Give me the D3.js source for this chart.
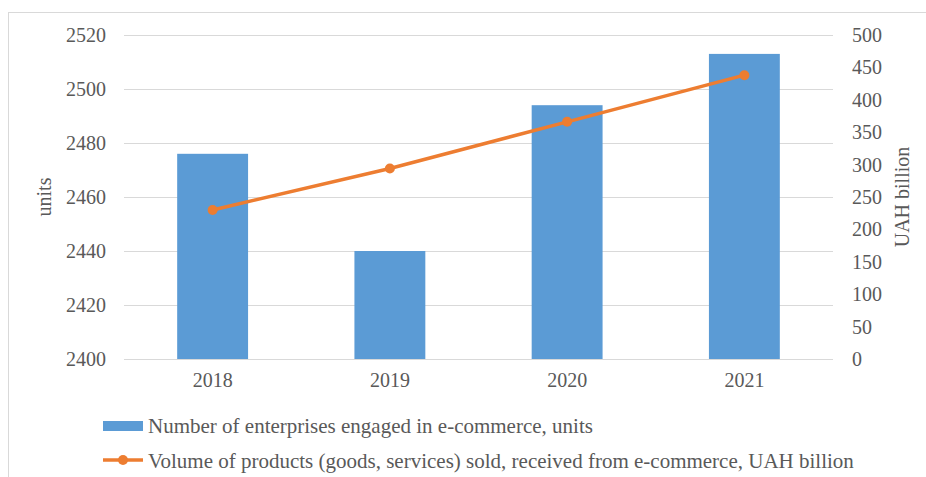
<!DOCTYPE html>
<html lang="en">
<head>
<script type="text/javascript" src="https://d3js.org/d3.v7.min.js"></script>
<style>
    body { margin: 0; background: #fff; }
    text { font-family: "Liberation Serif", "Times New Roman", serif; fill: #595959; }
</style>
</head>
<body>
<div id="container"></div>
<script>
    const years = ["2018", "2019", "2020", "2021"],
        enterprises = [2476, 2440, 2494, 2513],
        volume = [230, 294, 366, 438];
    const leftTicks = [2400, 2420, 2440, 2460, 2480, 2500, 2520],
        rightTicks = [0, 50, 100, 150, 200, 250, 300, 350, 400, 450, 500];
    const barName = "Number of enterprises engaged in e-commerce, units",
        lineName = "Volume of products (goods, services) sold, received from e-commerce, UAH billion";

    var width = 926,
        height = 477,
        blue = "#5b9bd5",
        orange = "#ed7d31";

    var svg = d3.select("#container")
                .append("svg")
                .attr("width", width)
                .attr("height", height);

    // chart frame
    svg.append("rect")
        .attr("x", 8.5).attr("y", 12.5)
        .attr("width", 930).attr("height", 480)
        .attr("fill", "none")
        .attr("stroke", "#d9d9d9");

    var x = d3.scaleBand()
                .domain(years)
                .range([124, 833])
                .paddingInner(0.6)
                .paddingOuter(0.3);

    var yLeft = d3.scaleLinear().domain([2400, 2520]).range([359, 35]);
    var yRight = d3.scaleLinear().domain([0, 500]).range([359, 35]);

    // gridlines
    svg.append("g")
        .selectAll("line")
        .data(leftTicks)
        .enter()
        .append("line")
        .attr("x1", 124).attr("x2", 833)
        .attr("y1", d => Math.round(yLeft(d)) + 0.5)
        .attr("y2", d => Math.round(yLeft(d)) + 0.5)
        .attr("stroke", "#d9d9d9")
        .attr("stroke-width", 1);

    // left axis
    var axL = svg.append("g")
        .attr("transform", "translate(124,0)")
        .call(d3.axisLeft(yLeft).tickValues(leftTicks).tickFormat(d3.format("d")).tickSize(0).tickPadding(18));
    axL.select(".domain").remove();

    // right axis
    var axR = svg.append("g")
        .attr("transform", "translate(833,0)")
        .call(d3.axisRight(yRight).tickValues(rightTicks).tickFormat(d3.format("d")).tickSize(0).tickPadding(19));
    axR.select(".domain").remove();

    // x axis
    var axX = svg.append("g")
        .attr("transform", "translate(0,359)")
        .call(d3.axisBottom(x).tickSize(0).tickPadding(14));
    axX.select(".domain").remove();

    svg.selectAll(".tick text")
        .style("font-family", "'Liberation Serif', 'Times New Roman', serif")
        .style("font-size", "20px")
        .attr("fill", "#595959");

    // axis titles
    svg.append("text")
        .attr("transform", "translate(51,197) rotate(-90)")
        .attr("text-anchor", "middle")
        .style("font-size", "20px")
        .text("units");
    svg.append("text")
        .attr("transform", "translate(909,197) rotate(-90)")
        .attr("text-anchor", "middle")
        .style("font-size", "20px")
        .text("UAH billion");

    // bars
    svg.append("g")
        .selectAll("rect")
        .data(enterprises)
        .enter()
        .append("rect")
        .attr("x", (d, i) => x(years[i]))
        .attr("width", x.bandwidth())
        .attr("y", d => yLeft(d))
        .attr("height", d => yLeft(2400) - yLeft(d))
        .attr("fill", blue);

    // line
    var line = d3.line()
                .x((d, i) => x(years[i]) + x.bandwidth() / 2)
                .y(d => yRight(d));

    svg.append("path")
        .datum(volume)
        .attr("d", line)
        .attr("fill", "none")
        .attr("stroke", orange)
        .attr("stroke-width", 3.5)
        .attr("stroke-linecap", "round");

    svg.append("g")
        .selectAll("circle")
        .data(volume)
        .enter()
        .append("circle")
        .attr("cx", (d, i) => x(years[i]) + x.bandwidth() / 2)
        .attr("cy", d => yRight(d))
        .attr("r", 5)
        .attr("fill", orange);

    // legend
    var lg = svg.append("g");
    lg.append("rect")
        .attr("x", 103).attr("y", 421)
        .attr("width", 40).attr("height", 10)
        .attr("fill", blue);
    lg.append("text")
        .attr("x", 148).attr("y", 433)
        .style("font-size", "21px")
        .text(barName);
    lg.append("line")
        .attr("x1", 103).attr("x2", 143)
        .attr("y1", 460).attr("y2", 460)
        .attr("stroke", orange)
        .attr("stroke-width", 3.5);
    lg.append("circle")
        .attr("cx", 123).attr("cy", 460)
        .attr("r", 5)
        .attr("fill", orange);
    lg.append("text")
        .attr("x", 148).attr("y", 468)
        .style("font-size", "21px")
        .text(lineName);
</script>
</body>
</html>
